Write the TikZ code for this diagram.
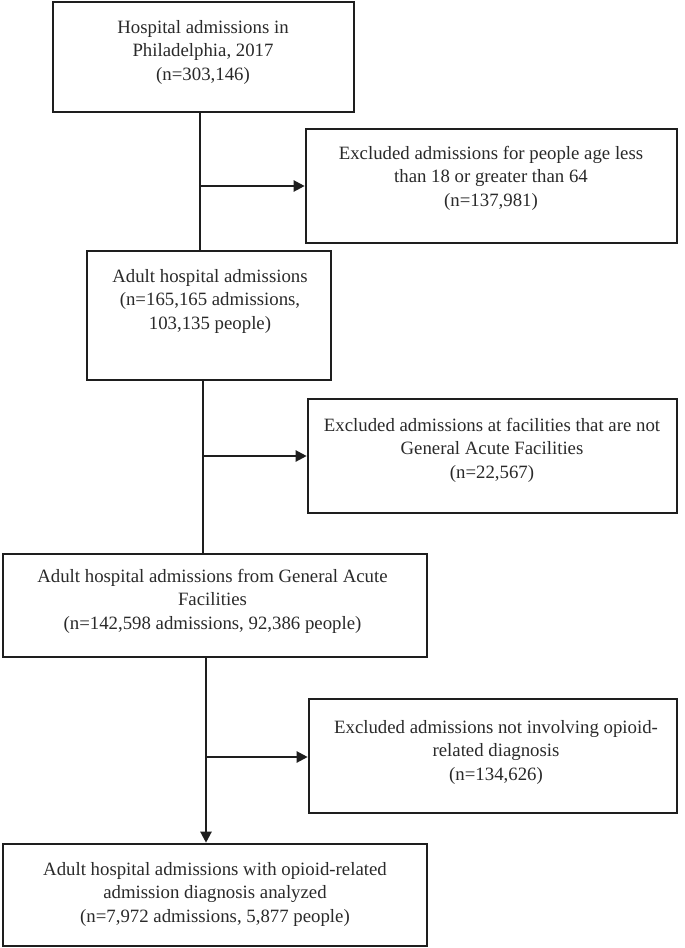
\documentclass[tikz,border=0pt]{standalone}
\usepackage{fontspec}
\setmainfont{Liberation Serif}
\usetikzlibrary{arrows.meta}
\definecolor{ink}{HTML}{1E1E1E}
\definecolor{txt}{HTML}{2A2A2A}
\begin{document}
\begin{tikzpicture}[x=1pt,y=-1pt,
  box/.style={draw=ink,line width=2.6pt,minimum width=#1,inner sep=0pt,fill=none},
  lbl/.style={text=txt,align=center,inner sep=0pt,font=\fontsize{18.8}{23.5}\selectfont},
  conn/.style={draw=ink,line width=2.2pt},
  arr/.style={conn,-{Triangle[length=11pt,width=11pt]}}]
\useasboundingbox (0,0) rectangle (685,948);
\fill[white] (0,0) rectangle (685,948);
% boxes
\node[box=301pt,minimum height=110pt] (b1) at (203.5,57) {};
\node[box=371pt,minimum height=114pt] (b2) at (491.5,186) {};
\node[box=244pt,minimum height=129pt] (b3) at (209,315.5) {};
\node[box=369pt,minimum height=114pt] (b4) at (492.5,456) {};
\node[box=424pt,minimum height=103pt] (b5) at (215,605.5) {};
\node[box=368pt,minimum height=114pt] (b6) at (493,756) {};
\node[box=424pt,minimum height=102pt] (b7) at (215,895) {};
% texts
\node[lbl] (t1) at (203,52) {Hospital admissions in\\Philadelphia, 2017\\(n=303,146)};
\node[lbl] (t2) at (491,178) {Excluded admissions for people age less\\than 18 or greater than 64\\(n=137,981)};
\node[lbl] (t3) at (210,301) {Adult hospital admissions\\(n=165,165 admissions,\\103,135 people)};
\node[lbl] (t4) at (492,450) {Excluded admissions at facilities that are not\\General Acute Facilities\\(n=22,567)};
\node[lbl] (t5) at (212.5,601) {Adult hospital admissions from General Acute\\Facilities\\(n=142,598 admissions, 92,386 people)};
\node[lbl] (t6) at (496,752) {Excluded admissions not involving opioid-\\related diagnosis\\(n=134,626)};
\node[lbl] (t7) at (215,894) {Adult hospital admissions with opioid-related\\admission diagnosis analyzed\\(n=7,972 admissions, 5,877 people)};
% junctions
\coordinate (j1) at (200,186);
\coordinate (j2) at (203,456);
\coordinate (j3) at (206,757);
% connectors
\draw[conn] (b1.south -| j1) -- (b3.north -| j1);
\draw[arr] (j1) -- (b2.west |- j1);
\draw[conn] (b3.south -| j2) -- (b5.north -| j2);
\draw[arr] (j2) -- (b4.west |- j2);
\draw[arr] (b5.south -| j3) -- (b7.north -| j3);
\draw[arr] (j3) -- (b6.west |- j3);
\end{tikzpicture}
\end{document}
